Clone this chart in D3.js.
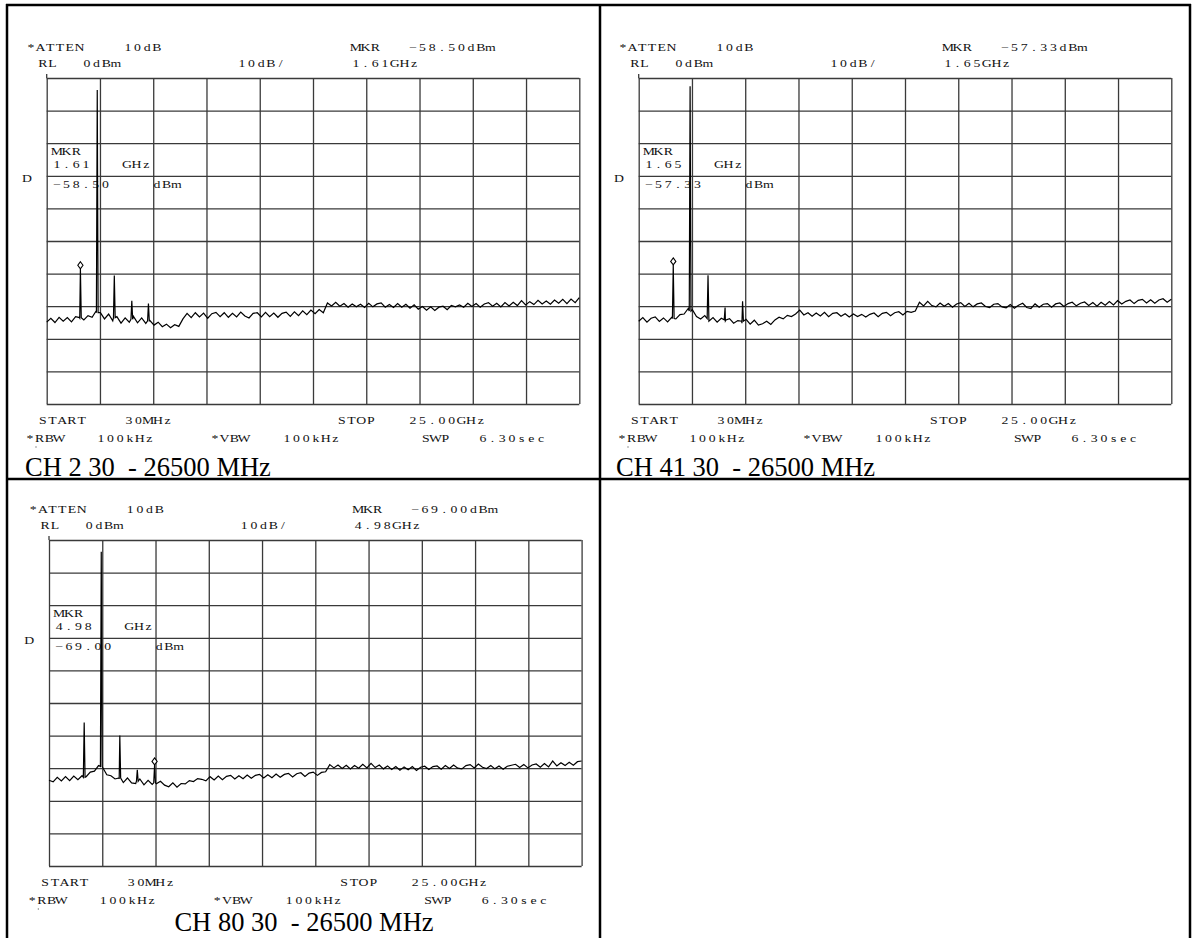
<!DOCTYPE html>
<html>
<head>
<meta charset="utf-8">
<script src="https://cdn.jsdelivr.net/npm/d3@7"></script>
<style>
  html, body { margin: 0; padding: 0; background: #fff; }
  svg { display: block; }
  .cap { font-family: "Liberation Serif", "Times New Roman", serif; font-size: 26.5px; fill: #000; white-space: pre; }
  .mono { font-family: "Liberation Serif", "Times New Roman", serif; font-size: 9.5px; fill: #111; }
</style>
</head>
<body>
<svg id="chart" width="1195" height="938"></svg>
<script>
//	sweep settings
var startGHz = 0.03, stopGHz = 25.0;
var refDb = 0, bottomDb = -100;

//	trace floors, one value per sweep point (dBm)
var ch2Floor = [
  -74.9, -73.7, -75.0, -73.4, -74.6, -73.5, -74.8, -73.2, -73.6,
  -74.2, -72.9, -73.4, -71.4,
  -72.0, -73.9, -72.4, -74.5,
  -73.2, -75.2, -73.6, -74.9,
  -73.1, -75.1, -73.6, -75.3,
  -74.4, -75.8, -74.9, -76.3, -75.5, -76.6, -75.7, -76.2,
  -73.9, -72.2, -73.5, -72.0, -73.3, -72.1, -73.7, -72.3, -71.9, -73.2,
  -72.0, -73.4, -72.2, -73.3, -71.8, -73.0, -73.6, -72.2, -72.0, -73.3,
  -71.9, -73.2, -72.1, -73.4, -72.2, -71.8, -73.1, -71.7, -72.9, -71.4,
  -72.6, -71.2, -72.3, -71.0,
  -72.0,
  -69.0, -69.9, -68.8, -70.0, -69.2, -70.3, -69.3, -70.2, -69.4, -70.4,
  -69.1, -70.2, -69.3, -69.0, -70.3, -69.5, -70.4, -69.2, -70.3, -69.4,
  -70.6, -69.6, -70.9, -70.1, -71.2, -70.2, -71.3, -70.3, -70.0, -71.1,
  -69.8, -70.2, -69.6, -70.3, -69.1, -70.1, -69.2, -70.3, -69.3, -68.9,
  -70.0, -69.1, -70.2, -68.9, -69.9, -68.8, -69.8, -68.3, -69.6, -68.6,
  -69.5, -68.2, -69.3, -68.4, -69.4, -68.1, -69.1, -67.9, -69.2, -67.8,
  -68.9, -67.4
];
var ch41Floor = [
  -74.6, -73.5, -74.9, -73.7, -73.3, -74.7, -73.6, -74.8, -73.4,
  -73.9, -72.6, -72.4, -70.7,
  -71.1, -73.2, -73.9, -72.9,
  -74.6, -73.5, -74.9, -73.7,
  -74.5, -73.8, -75.2, -74.4,
  -75.2, -74.0, -75.5, -74.3, -75.8, -75.4, -74.6, -75.6, -74.2,
  -73.4, -73.9, -72.8, -73.2, -72.4, -71.2, -72.7,
  -72.0, -73.1, -72.1, -73.0, -71.9, -73.2, -72.2, -72.0, -73.1, -72.3,
  -73.3, -72.4, -73.2, -72.5, -73.3, -72.5, -72.1, -73.2, -72.2, -71.9,
  -72.9, -72.0, -71.7, -72.7,
  -71.6, -71.9, -71.5,
  -68.8, -69.9, -68.5, -69.8, -70.2, -69.0, -70.0, -69.2, -70.3, -69.3,
  -68.9, -70.1, -69.1, -70.2, -69.3, -69.0, -70.1, -70.4, -69.4, -69.2,
  -70.2, -70.5, -69.5, -70.6, -69.7, -69.1, -70.4, -70.7, -69.3, -70.3,
  -69.4, -69.2, -70.3, -69.3, -69.0, -70.1, -69.2, -68.8, -69.9, -69.1,
  -68.7, -69.8, -68.9, -70.0, -68.8, -69.7, -68.6, -69.6, -68.3, -69.3,
  -68.5, -68.1, -69.2, -68.2, -67.9, -69.0, -68.0, -69.1, -68.1, -67.7,
  -68.8, -67.9
];
var ch80Floor = [
  -73.7, -74.2, -72.8, -73.9, -72.6, -73.8, -72.4, -73.5, -72.3,
  -72.6, -71.2, -70.9, -69.2,
  -69.8, -72.0, -72.3, -73.3,
  -73.3, -74.4, -73.0, -74.5,
  -74.7, -73.3, -75.1, -73.7,
  -75.0, -74.8, -74.0, -75.2, -75.7, -74.5, -75.8, -74.7, -74.8, -73.8,
  -74.1, -73.2, -73.4, -73.9, -72.6, -73.6, -72.4, -73.5, -72.5, -72.2,
  -73.3, -72.3, -73.2, -72.1, -73.1, -72.2, -71.9, -73.0, -72.0, -72.9,
  -71.8, -72.8, -71.9, -71.6, -72.7, -71.7, -71.4, -72.5, -71.5, -71.2,
  -72.2, -71.3,
  -71.1,
  -68.9, -69.9, -69.0, -70.1, -69.1, -70.2, -69.2, -70.0, -68.8, -69.9,
  -68.5, -69.8, -69.0, -70.2, -69.3, -70.4, -69.5, -70.6, -69.6, -70.5,
  -69.5, -70.7, -69.7, -69.4, -70.4, -69.5, -69.3, -70.3, -69.2, -70.1,
  -69.0, -70.0, -70.2, -69.2, -68.9, -69.9, -68.7, -69.7, -70.1, -69.2,
  -70.2, -69.3, -70.3, -69.4, -69.1, -68.8, -69.8, -68.9, -69.9, -69.0,
  -68.7, -69.7, -68.6, -69.6, -67.8, -69.3, -68.3, -69.2, -68.2, -69.1,
  -68.0, -67.8
];

//	spurs: [GHz, peak dBm, base dBm]
var ch2Spikes = [[1.61, -58.5, -73.5], [2.40, -3.7, -72.0], [3.20, -60.6, -73.5], [4.02, -68.3, -74.0], [4.80, -69.2, -74.5]];
var ch41Spikes = [[1.65, -57.33, -73.8], [2.44, -2.5, -71.5], [3.28, -60.5, -73.8], [4.08, -70.4, -74.2], [4.90, -68.5, -74.6]];
var ch80Spikes = [[1.68, -56.0, -72.8], [2.48, -3.6, -69.5], [3.35, -60.0, -73.0], [4.17, -70.5, -74.0], [4.98, -69.0, -74.5]];

//	marker readouts [GHz, dBm]
var ch2Marker = [1.61, -58.50];
var ch41Marker = [1.65, -57.33];
var ch80Marker = [4.98, -69.00];

var captions = ["CH 2 30  - 26500 MHz", "CH 41 30  - 26500 MHz", "CH 80 30  - 26500 MHz"];

var svg = d3.select("#chart");

//	frame of the table
var frame = svg.append("g").attr("stroke", "#000").attr("stroke-width", 2.5);
[[7, 4, 7, 938], [600, 4, 600, 938], [1190, 4, 1190, 938], [6, 5, 1191, 5], [6, 479, 1191, 479]].forEach(function (l) {
    frame.append("line").attr("x1", l[0]).attr("y1", l[1]).attr("x2", l[2]).attr("y2", l[3]);
});

//	wide fixed pitch text like the plotter font
var pitch = 9.7;
function mono(g, str, x, y) {
    var t = g.append("g").attr("class", "mono");
    str.split("").forEach(function (ch, i) {
        if (ch === " ") return;
        t.append("text")
                .attr("transform", "translate(" + (x + pitch * (i + 0.5)) + "," + y + ") scale(1.45,1)")
                .attr("text-anchor", "middle")
                .text(ch);
    });
}

function dbText(v) {
    return "\u2212" + Math.abs(v).toFixed(2);
}

var panels = [
    {ox: 0, oy: 0, floor: ch2Floor, spikes: ch2Spikes, marker: ch2Marker, caption: captions[0], cx: 25, cy: 476, anchor: "start"},
    {ox: 592, oy: 0, floor: ch41Floor, spikes: ch41Spikes, marker: ch41Marker, caption: captions[1], cx: 616, cy: 476, anchor: "start"},
    {ox: 2.3, oy: 462, floor: ch80Floor, spikes: ch80Spikes, marker: ch80Marker, caption: captions[2], cx: 304, cy: 931, anchor: "middle"}
];

panels.forEach(function (p) {
    var g = svg.append("g").attr("transform", "translate(" + p.ox + "," + p.oy + ")");
    var gx0 = 46.7, gx1 = 579.3, gy0 = 78, gy1 = 404;

    var x = d3.scaleLinear().domain([startGHz, stopGHz]).range([gx0, gx1]);
    var y = d3.scaleLinear().domain([bottomDb, refDb]).range([gy1, gy0]);

    //	grid
    var divs = d3.range(0, 11).map(function (k) {
        return startGHz + k * (stopGHz - startGHz) / 10;
    });
    var gridX = g.append("g").attr("transform", "translate(0," + gy1 + ")")
            .call(d3.axisBottom(x).tickValues(divs).tickSize(-(gy1 - gy0)).tickFormat(""));
    var gridY = g.append("g").attr("transform", "translate(" + gx0 + ",0)")
            .call(d3.axisLeft(y).tickValues(d3.range(bottomDb, refDb + 1, 10)).tickSize(-(gx1 - gx0)).tickFormat(""));
    [gridX, gridY].forEach(function (a) {
        a.select(".domain").remove();
        a.selectAll(".tick line").attr("stroke", "#3a3a3a").attr("stroke-width", 1.3);
    });
    g.append("line").attr("x1", gx0).attr("x2", gx0).attr("y1", gy0 - 4).attr("y2", gy0)
            .attr("stroke", "#3a3a3a").attr("stroke-width", 1.3);

    //	header
    mono(g, "*ATTEN", 26, 51);
    mono(g, "10dB", 123, 51);
    mono(g, "MKR", 351, 51);
    mono(g, dbText(p.marker[1]) + "dBm", 408, 51);
    mono(g, "RL", 38, 67);
    mono(g, "0dBm", 82, 67);
    mono(g, "10dB/", 237, 67);
    mono(g, p.marker[0].toFixed(2) + "GHz", 351, 67);

    //	marker block inside the grid
    mono(g, "MKR", 52, 155);
    mono(g, p.marker[0].toFixed(2), 52, 168);
    mono(g, "GHz", 122, 168);
    mono(g, "D", 22, 182);
    mono(g, dbText(p.marker[1]), 52, 188);
    mono(g, "dBm", 152, 188);

    //	footer
    mono(g, "START", 38, 423.5);
    mono(g, "30MHz", 124, 423.5);
    mono(g, "STOP", 337, 423.5);
    mono(g, stopGHz.toFixed(2) + "GHz", 408, 423.5);
    mono(g, "*RBW", 25, 442);
    mono(g, "100kHz", 96, 442);
    mono(g, "*VBW", 210, 442);
    mono(g, "100kHz", 282, 442);
    mono(g, "SWP", 421, 442);
    mono(g, "6.30sec", 478, 442);
    g.append("rect").attr("x", 35.5).attr("y", 446.5).attr("width", 1).attr("height", 1).attr("fill", "#333");

    //	trace: floor samples plus narrow spurs
    var n = p.floor.length;
    var pts = p.floor.map(function (v, i) {
        return [startGHz + i * (stopGHz - startGHz) / (n - 1), v];
    });
    p.spikes.forEach(function (s) {
        pts.push([s[0] - 0.04, s[2]], [s[0], s[1]], [s[0] + 0.04, s[2]]);
    });
    pts.sort(function (a, b) { return a[0] - b[0]; });

    var line = d3.line()
            .x(function (d) { return x(d[0]); })
            .y(function (d) { return y(d[1]); });
    g.append("path").datum(pts)
            .attr("d", line)
            .attr("fill", "none")
            .attr("stroke", "#000")
            .attr("stroke-width", 1.2)
            .attr("stroke-linejoin", "miter");

    //	marker diamond sitting on the marked peak
    var mx = x(p.marker[0]), my = y(p.marker[1]);
    g.append("path")
            .attr("d", "M" + mx + "," + (my - 7) + "L" + (mx + 2.6) + "," + (my - 3.5) + "L" + mx + "," + my + "L" + (mx - 2.6) + "," + (my - 3.5) + "Z")
            .attr("fill", "#fff")
            .attr("stroke", "#000")
            .attr("stroke-width", 1.1);

    svg.append("text").attr("class", "cap")
            .attr("x", p.cx).attr("y", p.cy)
            .attr("text-anchor", p.anchor)
            .text(p.caption);
});
</script>
</body>
</html>
